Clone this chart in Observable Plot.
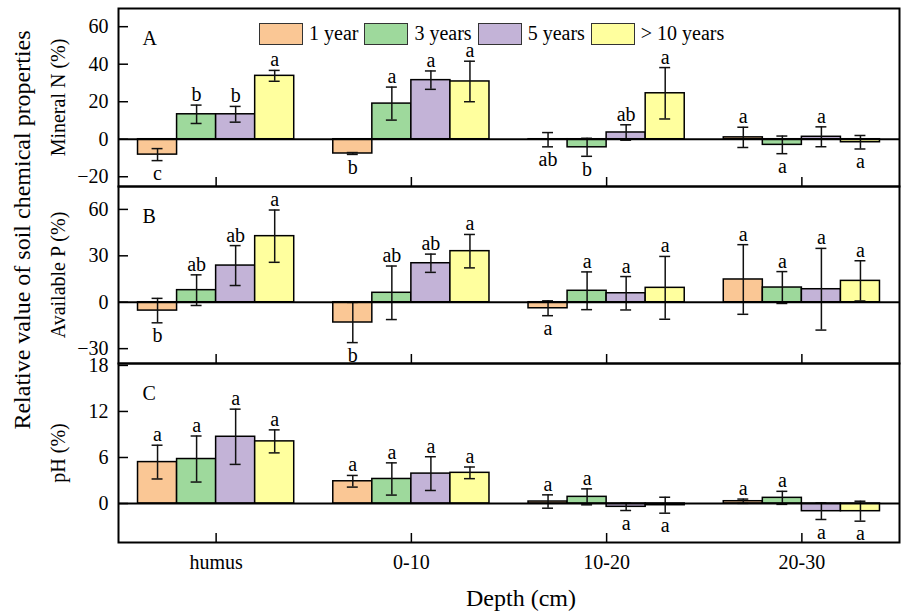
<!DOCTYPE html>
<html>
<head>
<meta charset="utf-8">
<script src="https://cdn.jsdelivr.net/npm/d3@7"></script>
<script src="https://cdn.jsdelivr.net/npm/@observablehq/plot@0.6"></script>
<style>
  html, body { margin: 0; padding: 0; background: #fff; }
  #wrap { position: relative; width: 902px; height: 611px; font-family: "Liberation Serif", "Times New Roman", serif; color: #000; overflow: hidden; }
  #wrap svg, #wrap svg text { font-family: "Liberation Serif", "Times New Roman", serif !important; }
  #wrap svg { background: transparent !important; overflow: visible !important; }
  .panel { position: absolute; left: 0; }
  .legend { position: absolute; left: 259px; top: 22px; display: flex; align-items: center; font-size: 20px; }
  .legend .item { display: flex; align-items: center; margin-right: 6px; }
  .legend .box { width: 42px; height: 20px; border: 1.5px solid #333; margin-right: 6px; }
  .vtitle { position: absolute; width: 500px; left: -228px; top: 216px; height: 28px; line-height: 28px; text-align: center; font-size: 24px; transform: rotate(-90deg); transform-origin: 250px 14px; }
  .xtitle { position: absolute; width: 200px; left: 421px; top: 584px; height: 28px; line-height: 28px; text-align: center; font-size: 24px; }
</style>
</head>
<body>
<div id="wrap"></div>
<script>
// ---------- data ----------
const depths = ["humus", "0-10", "10-20", "20-30"];
const ages = ["1 year", "3 years", "5 years", "> 10 years"];
const ageColors = ["#FAC795", "#9ED99C", "#C3B3D7", "#FFFF9E"];

// Mineral N (%) — rows = depth, cols = age
const nValues = [[-8.2, 13.3, 13.3, 33.8], [-7.6, 19.0, 31.5, 30.8], [-0.25, -4.3, 3.6, 24.5], [1.0, -3.0, 1.3, -1.6]];
const nErrors = [[3.2, 4.9, 4.2, 2.9], [0.5, 8.8, 4.9, 10.8], [3.8, 4.8, 4.1, 13.7], [5.4, 4.7, 5.3, 3.6]];
const nLetters = [["c", "b", "b", "a"], ["b", "a", "a", "a"], ["ab", "b", "ab", "a"], ["a", "a", "a", "a"]];
const nTicks = [60, 40, 20, 0, -20];

// Available P (%)
const pValues = [[-5.4, 7.8, 23.7, 42.7], [-13.1, 6.1, 25.2, 33.0], [-3.9, 7.4, 5.8, 9.3], [14.7, 9.5, 8.4, 13.8]];
const pErrors = [[7.9, 9.9, 12.9, 16.9], [13.0, 17.3, 5.9, 10.8], [4.8, 12.2, 10.8, 20.3], [22.5, 10.3, 26.4, 13.0]];
const pLetters = [["b", "ab", "ab", "a"], ["b", "ab", "ab", "a"], ["a", "a", "a", "a"], ["a", "a", "a", "a"]];
const pTicks = [60, 30, 0, -30];

// pH (%)
const phValues = [[5.4, 5.8, 8.7, 8.1], [2.9, 3.2, 3.9, 4.0], [0.26, 0.87, -0.43, -0.22], [0.3, 0.74, -1.0, -1.0]];
const phErrors = [[2.2, 3.0, 3.6, 1.5], [0.76, 2.1, 2.2, 0.76], [0.87, 1.04, 0.48, 1.04], [0.28, 0.85, 1.08, 1.3]];
const phLetters = [["a", "a", "a", "a"], ["a", "a", "a", "a"], ["a", "a", "a", "a"], ["a", "a", "a", "a"]];
const phTicks = [18, 12, 6, 0];

// ---------- build ----------
function rows(values, errors, letters) {
  const out = [];
  depths.forEach((dep, di) => ages.forEach((age, ai) => {
    out.push({depth: dep, age, di, ai, v: values[di][ai], e: errors[di][ai], letter: letters[di][ai]});
  }));
  return out;
}
const barW = 0.2;
const x1 = d => d.di - 0.4 + d.ai * barW;
const xc = d => x1(d) + barW / 2;
const capW = 0.028;

const font = '"Liberation Serif", "Times New Roman", serif';
const fs = 20;

function panel({data, domain, ticks, label, tag, height, marginTop, marginBottom, showX}) {
  const pos = data.filter(d => d.v >= 0);
  const neg = data.filter(d => d.v < 0);
  const marks = [
    Plot.rect(data, {x1: x1, x2: d => x1(d) + barW, y1: 0, y2: "v", fill: "age", stroke: "#000", strokeWidth: 1.5}),
    Plot.ruleX(data, {x: xc, y1: d => d.v - d.e, y2: d => d.v + d.e, stroke: "#111", strokeWidth: 1.5}),
    Plot.ruleY(data, {y: d => d.v + d.e, x1: d => xc(d) - capW, x2: d => xc(d) + capW, stroke: "#111", strokeWidth: 1.5}),
    Plot.ruleY(data, {y: d => d.v - d.e, x1: d => xc(d) - capW, x2: d => xc(d) + capW, stroke: "#111", strokeWidth: 1.5}),
    Plot.ruleY([0], {stroke: "#000", strokeWidth: 2}),
    Plot.text(pos, {x: xc, y: d => d.v + d.e, text: "letter", lineAnchor: "bottom", dy: -4, fontSize: fs, fontFamily: font}),
    Plot.text(neg, {x: xc, y: d => d.v - d.e, text: "letter", lineAnchor: "top", dy: 5, fontSize: fs, fontFamily: font}),
    Plot.text([tag], {frameAnchor: "top-left", dx: 24, dy: 30, text: d => d, fontSize: fs, textAnchor: "start", lineAnchor: "middle", fontFamily: font}),
    Plot.text([label], {frameAnchor: "left", dx: -60, rotate: -90, text: d => d, fontSize: fs, textAnchor: "middle", lineAnchor: "middle", fontFamily: font}),
    Plot.axisY({ticks, tickSize: -10, tickFormat: () => "", strokeWidth: 1.5}),
    Plot.axisY({ticks, tickSize: 0, tickPadding: 10, fontSize: fs, fontFamily: font}),
    Plot.axisX({ticks: [0, 1, 2, 3], tickSize: -9, tickFormat: () => "", strokeWidth: 1.5}),
    Plot.frame({stroke: "#000", strokeWidth: 2})
  ];
  if (showX) marks.push(Plot.axisX({ticks: [0, 1, 2, 3], tickSize: 0, tickPadding: 12, fontSize: fs, fontFamily: font, tickFormat: i => depths[i]}));
  return Plot.plot({
    width: 902,
    height,
    marginLeft: 118,
    marginRight: 3,
    marginTop,
    marginBottom,
    style: {fontFamily: font, fontSize: fs + "px", background: "transparent", overflow: "visible", color: "#000"},
    x: {type: "linear", domain: [-0.5, 3.5], label: null, axis: null},
    y: {domain, label: null, axis: null},
    color: {domain: ages, range: ageColors},
    marks
  });
}

const wrap = document.getElementById("wrap");
function place(svg, top) {
  const div = document.createElement("div");
  div.className = "panel";
  div.style.top = top + "px";
  div.appendChild(svg);
  wrap.appendChild(div);
}

place(panel({data: rows(nValues, nErrors, nLetters), domain: [-25.2, 69.7], ticks: nTicks, label: "Mineral N (%)", tag: "A", height: 186, marginTop: 8, marginBottom: 0}), 0);
place(panel({data: rows(pValues, pErrors, pLetters), domain: [-39.6, 74.8], ticks: pTicks, label: "Available P (%)", tag: "B", height: 177, marginTop: 0, marginBottom: 0}), 186);
place(panel({data: rows(phValues, phErrors, phLetters), domain: [-5.08, 18.25], ticks: phTicks, label: "pH (%)", tag: "C", height: 248, marginTop: 0, marginBottom: 69, showX: true}), 363);

// legend
const legend = document.createElement("div");
legend.className = "legend";
ages.forEach((a, i) => {
  const item = document.createElement("div");
  item.className = "item";
  const box = document.createElement("div");
  box.className = "box";
  box.style.background = ageColors[i];
  const t = document.createElement("span");
  t.textContent = a;
  item.appendChild(box);
  item.appendChild(t);
  legend.appendChild(item);
});
wrap.appendChild(legend);

const vt = document.createElement("div");
vt.className = "vtitle";
vt.textContent = "Relative value of soil chemical properties";
wrap.appendChild(vt);

const xt = document.createElement("div");
xt.className = "xtitle";
xt.textContent = "Depth (cm)";
wrap.appendChild(xt);
</script>
</body>
</html>
